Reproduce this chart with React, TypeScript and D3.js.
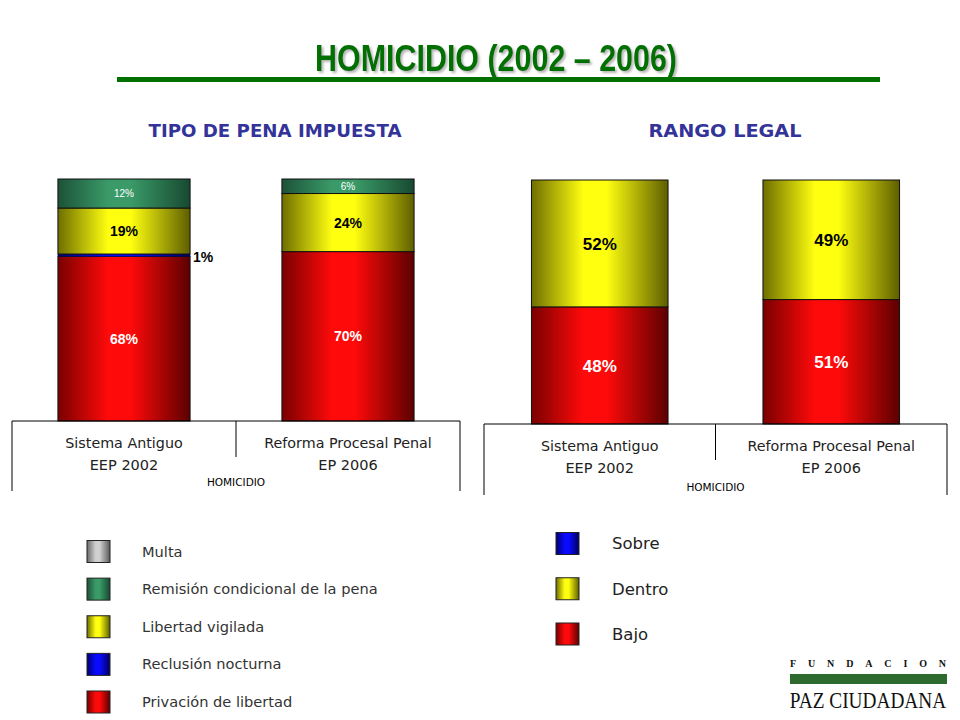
import * as d3 from "d3";
import { useEffect, useRef } from "react";

// categories (two systems) and their periods
const categories = ["Sistema Antiguo", "Reforma Procesal Penal"];
const periods = ["EEP 2002", "EP 2006"];

// TIPO DE PENA IMPUESTA (bottom to top of each bar)
const penaTypes = [
  "Privación de libertad",
  "Reclusión nocturna",
  "Libertad vigilada",
  "Remisión condicional de la pena",
  "Multa",
];
const privacion = [68, 70];
const reclusion = [1, 0];
const libertad = [19, 24];
const remision = [12, 6];
const multa = [0, 0];

// RANGO LEGAL (bottom to top)
const rangos = ["Bajo", "Dentro", "Sobre"];
const bajo = [48, 51];
const dentro = [52, 49];
const sobre = [0, 0];

const palette: Record<string, [string, string, string]> = {
  red: ["#7a0000", "#ff0a0a", "#5c0000"],
  blue: ["#00006e", "#0a0aff", "#000060"],
  yellow: ["#6e6e00", "#ffff10", "#5e5e00"],
  green: ["#1c5238", "#3a9a68", "#174a31"],
  gray: ["#6a6a6a", "#d0d0d0", "#5a5a5a"],
};

const penaColors = ["red", "blue", "yellow", "green", "gray"];
const rangoColors = ["red", "yellow", "blue"];

const labelFont = "'DejaVu Sans', 'Open Sans', sans-serif";
const numFont = "'Liberation Sans Narrow', 'Liberation Sans', Arial, sans-serif";

export default function App() {
  const svgRef = useRef<SVGSVGElement>(null);

  useEffect(() => {
    if (!svgRef.current) return;
    const svg = d3.select(svgRef.current);
    svg.selectAll("*").remove();

    // gradients
    const defs = svg.append("defs");
    Object.entries(palette).forEach(([name, [a, b, c]]) => {
      const g = defs
        .append("linearGradient")
        .attr("id", `grad-${name}`)
        .attr("x1", "0%")
        .attr("x2", "100%")
        .attr("y1", "0%")
        .attr("y2", "0%");
      g.append("stop").attr("offset", "0%").attr("stop-color", a);
      g.append("stop").attr("offset", "38%").attr("stop-color", b);
      g.append("stop").attr("offset", "55%").attr("stop-color", b);
      g.append("stop").attr("offset", "100%").attr("stop-color", c);
    });
    const shadow = defs
      .append("filter")
      .attr("id", "title-shadow")
      .attr("x", "-5%")
      .attr("y", "-20%")
      .attr("width", "110%")
      .attr("height", "140%");
    shadow
      .append("feDropShadow")
      .attr("dx", 2)
      .attr("dy", 2)
      .attr("stdDeviation", 0.8)
      .attr("flood-color", "#888")
      .attr("flood-opacity", 0.6);

    // Title
    svg
      .append("text")
      .attr("x", 496)
      .attr("y", 71)
      .attr("text-anchor", "middle")
      .attr("textLength", 362)
      .attr("lengthAdjust", "spacingAndGlyphs")
      .attr("filter", "url(#title-shadow)")
      .style("font-family", numFont)
      .style("font-weight", "bold")
      .style("font-size", "36px")
      .style("fill", "#007000")
      .text("HOMICIDIO (2002 – 2006)");
    svg
      .append("rect")
      .attr("x", 117)
      .attr("y", 77)
      .attr("width", 763)
      .attr("height", 5)
      .attr("fill", "#007000");

    const drawChart = (
      title: string,
      titleX: number,
      titleWidth: number,
      series: number[][],
      colors: string[],
      box: { left: number; right: number; base: number; top: number; bottom: number },
      bigLabels: boolean,
      homicidioY: number,
    ) => {
      const g = svg.append("g");
      const x = d3.scaleBand<string>().domain(categories).range([box.left, box.right]).padding(0);
      const y = d3.scaleLinear().domain([0, 100]).range([box.base, box.top]);
      const barW = x.bandwidth() * 0.59;
      const mid = (box.left + box.right) / 2;

      g.append("text")
        .attr("x", titleX)
        .attr("y", 137)
        .attr("text-anchor", "middle")
        .attr("textLength", titleWidth)
        .attr("lengthAdjust", "spacingAndGlyphs")
        .style("font-family", labelFont)
        .style("font-weight", "bold")
        .style("font-size", "17px")
        .style("fill", "#333399")
        .text(title);

      const rows = categories.map((c, i) => {
        const r: Record<string, number | string> = { cat: c };
        series.forEach((s, k) => (r[`k${k}`] = s[i]));
        return r;
      });
      const keys = series.map((_, k) => `k${k}`);
      const stacked = d3.stack<Record<string, number | string>>().keys(keys)(rows as any);

      stacked.forEach((layer, k) => {
        layer.forEach((d, i) => {
          const v = d[1] - d[0];
          if (v <= 0) return;
          const cat = categories[i];
          const x0 = (x(cat) || 0) + (x.bandwidth() - barW) / 2;
          g.append("rect")
            .attr("x", x0)
            .attr("y", y(d[1]))
            .attr("width", barW)
            .attr("height", y(d[0]) - y(d[1]))
            .attr("fill", `url(#grad-${colors[k]})`)
            .attr("stroke", v < 3 ? "#000040" : "#111")
            .attr("stroke-width", v < 3 ? 0.4 : 1);
        });
      });

      // value labels
      stacked.forEach((layer, k) => {
        layer.forEach((d, i) => {
          const v = d[1] - d[0];
          if (v <= 0) return;
          const cat = categories[i];
          const x0 = (x(cat) || 0) + (x.bandwidth() - barW) / 2;
          const cy = (y(d[0]) + y(d[1])) / 2;
          const outside = v < 3;
          const small = !bigLabels && !outside && v < 15;
          const fill = outside ? "#000" : colors[k] === "yellow" ? "#000" : "#fff";
          g.append("text")
            .attr("x", outside ? x0 + barW + 3 : x0 + barW / 2)
            .attr("y", cy + (outside ? 2 : 0))
            .attr("dy", "0.36em")
            .attr("text-anchor", outside ? "start" : "middle")
            .style("font-family", numFont)
            .style("font-weight", small ? "normal" : "bold")
            .style("font-size", bigLabels ? "17px" : small ? "10px" : "14px")
            .style("fill", fill)
            .text(`${v}%`);
        });
      });

      // category box (axis)
      g.append("path")
        .attr(
          "d",
          `M${box.left},${box.bottom}V${box.base}H${box.right}V${box.bottom}M${mid},${box.base}V${box.base + 36}`,
        )
        .attr("fill", "none")
        .attr("stroke", "#000")
        .attr("stroke-width", 1);

      categories.forEach((c, i) => {
        const cx = (x(c) || 0) + x.bandwidth() / 2;
        g.append("text")
          .attr("x", cx)
          .attr("y", box.base + 27)
          .attr("text-anchor", "middle")
          .style("font-family", labelFont)
          .style("font-size", "14.3px")
          .style("fill", "#222")
          .text(c);
        g.append("text")
          .attr("x", cx)
          .attr("y", box.base + 49)
          .attr("text-anchor", "middle")
          .style("font-family", labelFont)
          .style("font-size", "14.5px")
          .style("fill", "#222")
          .text(periods[i]);
      });
      g.append("text")
        .attr("x", mid)
        .attr("y", homicidioY)
        .attr("text-anchor", "middle")
        .style("font-family", labelFont)
        .style("font-size", "10.5px")
        .style("fill", "#000")
        .text("HOMICIDIO");
    };

    drawChart(
      "TIPO DE PENA IMPUESTA",
      275,
      253,
      [privacion, reclusion, libertad, remision, multa],
      penaColors,
      { left: 12, right: 460, base: 421, top: 179, bottom: 491 },
      false,
      486,
    );
    drawChart(
      "RANGO LEGAL",
      725,
      153,
      [bajo, dentro, sobre],
      rangoColors,
      { left: 484, right: 947, base: 424, top: 180, bottom: 495 },
      true,
      491,
    );

    // legends
    const drawLegend = (
      labels: string[],
      colors: string[],
      ys: [number, number],
      sqX: number,
      txtX: number,
      fontSize: number,
      color: string,
    ) => {
      const ly = d3.scalePoint<string>().domain(labels).range(ys);
      labels.forEach((l, i) => {
        const cy = ly(l) || 0;
        svg
          .append("rect")
          .attr("x", sqX)
          .attr("y", cy - 11)
          .attr("width", 23)
          .attr("height", 22)
          .attr("fill", `url(#grad-${colors[i]})`)
          .attr("stroke", "#222")
          .attr("stroke-width", 1);
        svg
          .append("text")
          .attr("x", txtX)
          .attr("y", cy)
          .attr("dy", "0.35em")
          .style("font-family", labelFont)
          .style("font-size", `${fontSize}px`)
          .style("fill", color)
          .text(l);
      });
    };
    drawLegend(
      [...penaTypes].reverse(),
      [...penaColors].reverse(),
      [551.5, 702],
      87,
      142,
      14.6,
      "#333",
    );
    drawLegend(
      [...rangos].reverse(),
      [...rangoColors].reverse(),
      [543.5, 634],
      556,
      612,
      16.5,
      "#222",
    );

    // logo
    svg
      .append("text")
      .attr("x", 790)
      .attr("y", 667)
      .attr("textLength", 156)
      .attr("lengthAdjust", "spacing")
      .style("font-family", "'Liberation Serif', serif")
      .style("font-weight", "bold")
      .style("font-size", "10px")
      .style("fill", "#111")
      .text("FUNDACION");
    svg
      .append("rect")
      .attr("x", 790)
      .attr("y", 674)
      .attr("width", 157)
      .attr("height", 10)
      .attr("fill", "#2d6a2d");
    // condensed serif wordmark, squeezed horizontally with a transform
    svg
      .append("text")
      .attr("transform", "translate(868,708) scale(0.84,1)")
      .attr("text-anchor", "middle")
      .style("font-family", "'Liberation Serif', serif")
      .style("font-size", "23px")
      .style("fill", "#111")
      .text("PAZ CIUDADANA");
  }, []);

  return (
    <svg
      ref={svgRef}
      width={960}
      height={720}
      style={{ position: "absolute", left: 0, top: 0, background: "#fff" }}
    />
  );
}
